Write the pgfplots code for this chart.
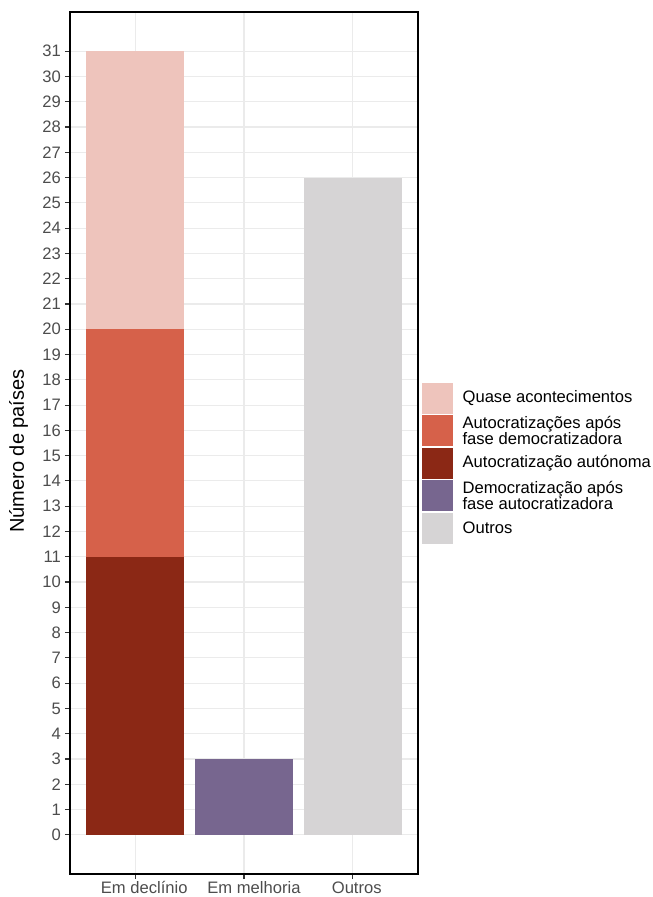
\documentclass[border=0pt]{standalone}
\usepackage{fontspec}
\setmainfont{Liberation Sans}
\usepackage{pgfplots}
\pgfplotsset{compat=1.18}
\definecolor{cQuase}{HTML}{EEC4BC}
\definecolor{cApos}{HTML}{D6614A}
\definecolor{cAuto}{HTML}{8B2815}
\definecolor{cDemo}{HTML}{77668F}
\definecolor{cOutros}{HTML}{D6D4D5}
\definecolor{gridc}{HTML}{EBEBEB}
\definecolor{tickc}{HTML}{4D4D4D}
\definecolor{tickm}{HTML}{333333}
\begin{document}
\begin{tikzpicture}
\useasboundingbox (0,0) rectangle (653pt,897pt);
\begin{axis}[
  at={(70pt,23pt)}, anchor=south west,
  scale only axis, width=348pt, height=862pt,
  xmin=0.4, xmax=3.6, ymin=-1.55, ymax=32.55,
  ybar stacked, bar width=0.9,
  xtick={1,2,3}, xticklabels={\hspace*{18pt}Em declínio, \hspace*{20pt}Em melhoria, \hspace*{8pt}Outros},
  ytick={0,1,...,31},
  xtick pos=bottom, ytick pos=left,
  tick align=outside, major tick length=5pt,
  tick style={tickm, line width=1.1pt},
  axis line style={black, line width=1.4pt},
  grid=major, major grid style={gridc, line width=1.1pt},
  /pgf/number format/assume math mode=true,
  ticklabel style={font=\fontsize{16.6}{16}\selectfont, text=tickc},
  xticklabel style={inner sep=0pt, yshift=-2.5pt},
  yticklabel style={inner sep=0pt, xshift=-4pt},
  ylabel={Número de países},
  ylabel style={font=\fontsize{20}{24}\selectfont, at={(axis description cs:-0.12,0.4907)}, anchor=south, inner sep=0pt},
  legend style={at={(axis description cs:1.0115,0.4768)}, anchor=west, draw=none, fill=none,
    inner sep=0pt, row sep=2pt, column sep=10pt,
    font=\fontsize{16.6}{15.5}\selectfont,
    nodes={inner sep=0pt, text depth=, align=left},
    cells={anchor=west}},
]
\addlegendimage{legend image code/.code={\fill[cQuase] (0pt,-15pt) rectangle (30pt,15pt);}}
\addlegendentry{Quase acontecimentos}
\addlegendimage{legend image code/.code={\fill[cApos] (0pt,-15pt) rectangle (30pt,15pt);}}
\addlegendentry{Autocratizações após\\fase democratizadora}
\addlegendimage{legend image code/.code={\fill[cAuto] (0pt,-15pt) rectangle (30pt,15pt);}}
\addlegendentry{Autocratização autónoma}
\addlegendimage{legend image code/.code={\fill[cDemo] (0pt,-15pt) rectangle (30pt,15pt);}}
\addlegendentry{Democratização após\\fase autocratizadora}
\addlegendimage{legend image code/.code={\fill[cOutros] (0pt,-15pt) rectangle (30pt,15pt);}}
\addlegendentry{Outros}

\addplot[fill=cAuto, draw=none, forget plot] coordinates {(1,11) (2,0) (3,0)};
\addplot[fill=cApos, draw=none, forget plot] coordinates {(1,9) (2,0) (3,0)};
\addplot[fill=cQuase, draw=none, forget plot] coordinates {(1,11) (2,0) (3,0)};
\addplot[fill=cDemo, draw=none, forget plot] coordinates {(1,0) (2,3) (3,0)};
\addplot[fill=cOutros, draw=none, forget plot] coordinates {(1,0) (2,0) (3,26)};
\end{axis}
\end{tikzpicture}
\end{document}
